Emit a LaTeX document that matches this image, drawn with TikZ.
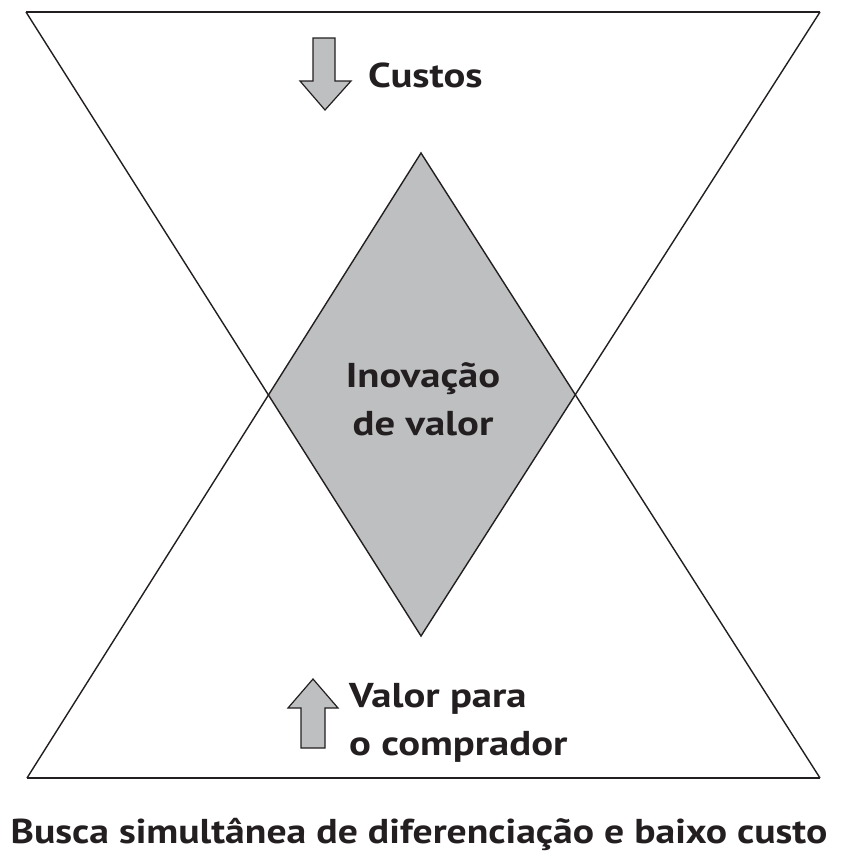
\documentclass[tikz,border=0pt]{standalone}
\usepackage{fontspec}
\setmainfont{PT Sans}[FakeStretch=1.18]
\newfontfamily\titlefont{PT Sans}[FakeStretch=1.15]
\definecolor{ink}{RGB}{35,31,32}
\definecolor{fillgray}{RGB}{190,191,193}
\begin{document}
\begin{tikzpicture}[x=1pt,y=-1pt,
  lbl/.style={font=\bfseries\fontsize{34.5}{48}\selectfont, text=ink, inner sep=0pt},
  edge/.style={draw=ink, line width=1.4pt},
  blockarrow/.style={draw=ink, fill=fillgray, line width=1.2pt, line join=miter}]
\useasboundingbox (0,0) rectangle (841,852);
\fill[white] (0,0) rectangle (841,852);
% top triangle
\coordinate (A) at (26,12);
\coordinate (B) at (820,12);
\coordinate (C) at (421,636);
% bottom triangle
\coordinate (D) at (27,778);
\coordinate (E) at (820,778);
\coordinate (F) at (421,153);
\coordinate (L) at (intersection of A--C and D--F);
\coordinate (R) at (intersection of B--C and E--F);
% diamond
\fill[fillgray] (F) -- (L) -- (C) -- (R) -- cycle;
% lines
\draw[edge] (A) -- (C) -- (B);
\draw[edge] (D) -- (F) -- (E);
\draw[draw=ink, line width=2.2pt] (A) -- (B);
\draw[draw=ink, line width=2pt] (D) -- (E);
% down arrow
\coordinate (dn) at (325,110);
\draw[blockarrow, shift={(dn)}] (-12,-72) -- (10,-72) -- (10,-29) -- (26,-29) -- (0,0) -- (-25,-29) -- (-12,-29) -- cycle;
% up arrow
\coordinate (up) at (313,679);
\draw[blockarrow, shift={(up)}] (0,0) -- (25,29) -- (12,29) -- (12,69) -- (-12,69) -- (-12,29) -- (-25,29) -- cycle;
% texts
\node[lbl, anchor=base west] (custos) at (368,87) {Custos};
\node[lbl, anchor=base, align=center] (inov) at (423,435) {Inovação\\de valor};
\node[lbl, anchor=base west, align=left] (valor) at (349,755) {Valor para\\o comprador};
\node[lbl, font=\titlefont\bfseries\fontsize{34.5}{48}\selectfont, anchor=base] (title) at (419,843) {Busca simultânea de diferenciação e baixo custo};
\end{tikzpicture}
\end{document}
